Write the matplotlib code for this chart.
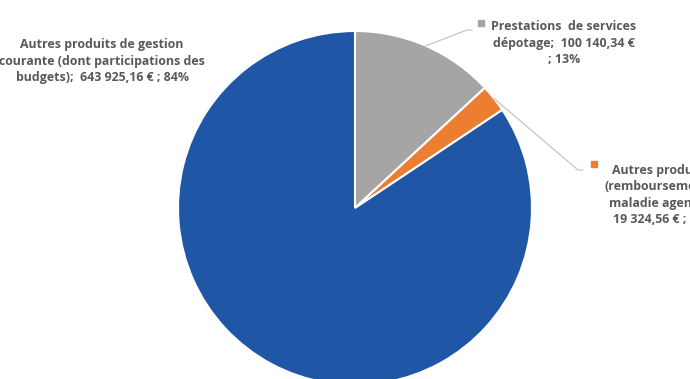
import matplotlib
matplotlib.use("Agg")
import matplotlib.pyplot as plt
import numpy as np

# Données
labels = [
    "Prestations  de services\ndépotage;  100 140,34 €\n; 13%",
    "Autres produits\n(remboursements\nmaladie agents);\n19 324,56 € ; 3%",
    "Autres produits de gestion\ncourante (dont participations des\nbudgets);  643 925,16 € ; 84%",
]
valeurs = [100140.34, 19324.56, 643925.16]
couleurs = ["#A5A5A5", "#ED7D31", "#1F56A6"]

W, H = 690, 379
plt.rcParams["font.family"] = ["Open Sans", "DejaVu Sans"]
fig = plt.figure(figsize=(W / 100, H / 100), dpi=100)
ax = fig.add_axes([0, 0, 1, 1])

cx, cy, R = 355, H - 208, 177
wedges, _ = ax.pie(valeurs, colors=couleurs, startangle=90, counterclock=False,
                   center=(cx, cy), radius=R, frame=False,
                   wedgeprops=dict(edgecolor="white", linewidth=1.5))
ax.set_xlim(0, W); ax.set_ylim(0, H)
ax.set_aspect("equal"); ax.axis("off")

txt = dict(color="#595959", fontweight="bold", fontsize=8.9, ha="center", va="center", linespacing=1.35)

def bord(w):
    a = np.deg2rad((w.theta1 + w.theta2) / 2)
    return cx + R * np.cos(a), cy + R * np.sin(a)

# étiquette gris
x0, y0 = bord(wedges[0])
ax.plot([x0, 467, 472], [y0, H - 30, H - 30], color="#BFBFBF", lw=0.8)
ax.plot(481, H - 23, "s", color=couleurs[0], ms=5)
ax.text(564, H - 43, labels[0], **txt)

# étiquette orange
x1, y1 = bord(wedges[1])
ax.plot([x1, 578, 583], [y1, H - 170, H - 170], color="#BFBFBF", lw=0.8)
ax.plot(594, H - 164, "s", color=couleurs[1], ms=5)
ax.text(660, H - 195, labels[1], **txt)

# étiquette bleu
ax.text(102, H - 61, labels[2], **txt)

fig.savefig("out.png", dpi=100)
